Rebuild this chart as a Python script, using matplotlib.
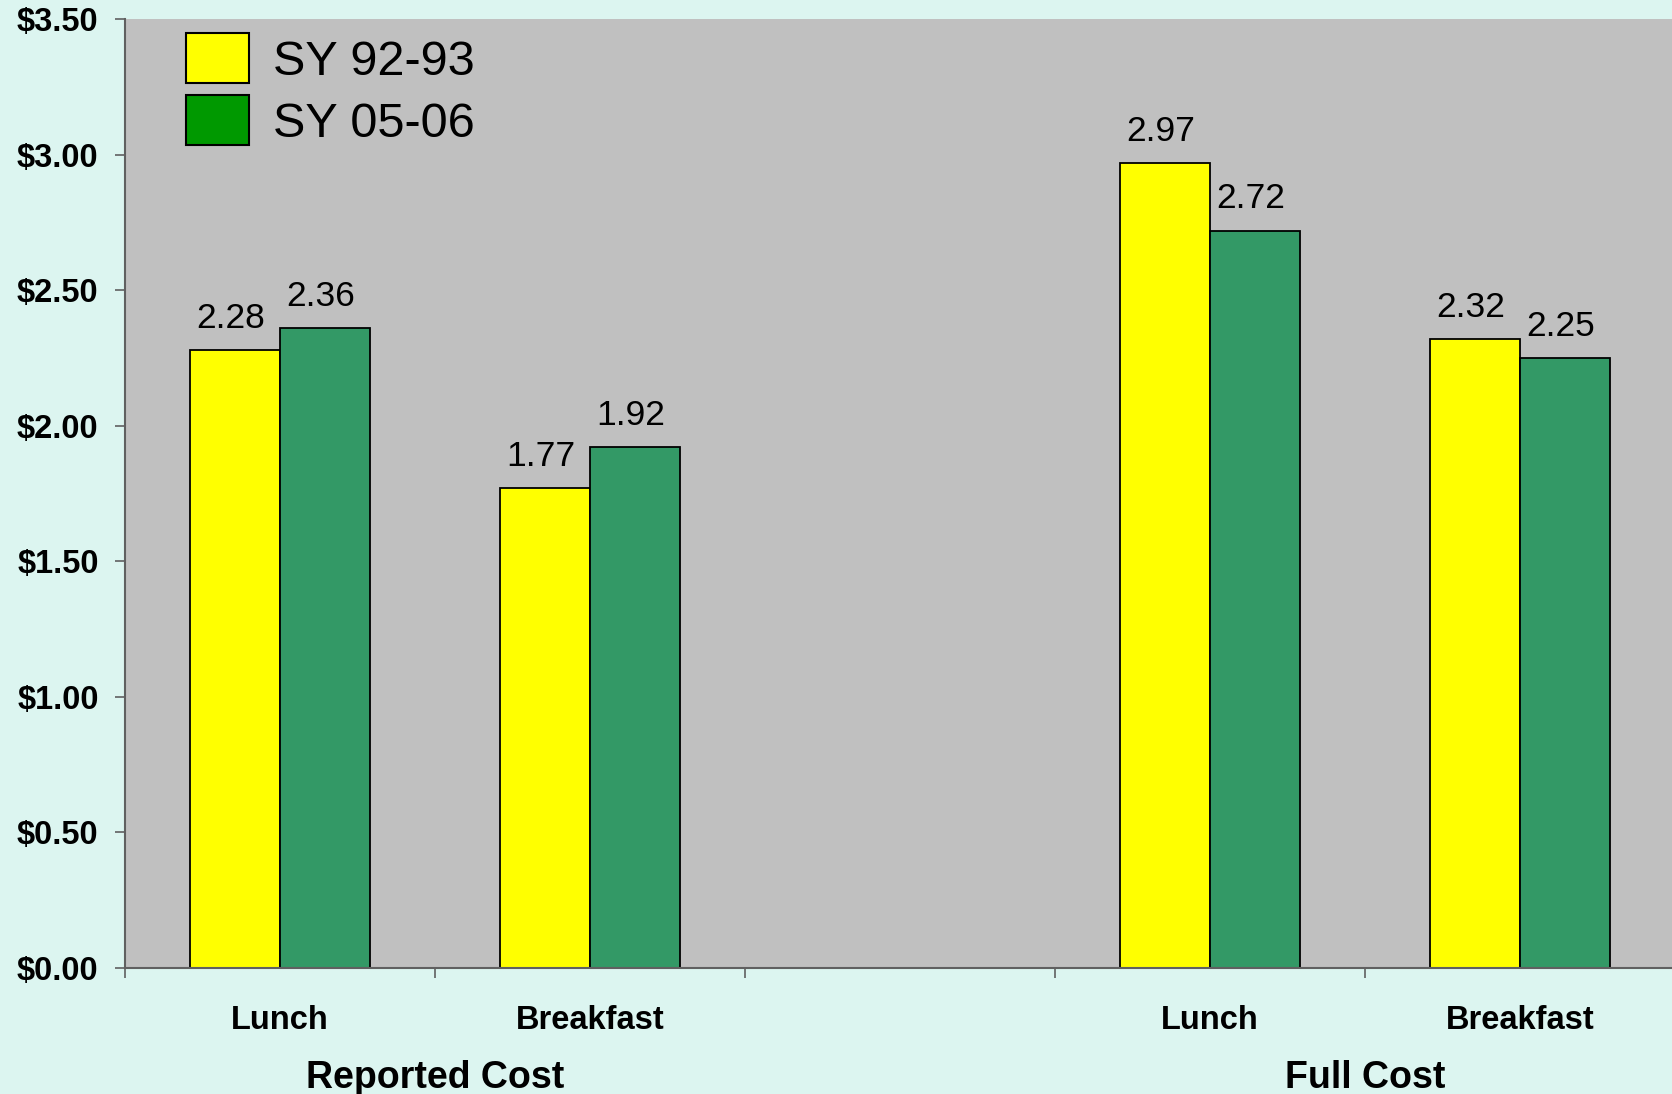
import matplotlib.pyplot as plt
import numpy as np

# Per-meal cost in dollars, grouped by reporting basis
meals = ["Lunch", "Breakfast", "", "Lunch", "Breakfast"]
groups = ["Reported Cost", "Full Cost"]
group_centers = [0.5, 3.5]
sy_92_93 = [2.28, 1.77, None, 2.97, 2.32]
sy_05_06 = [2.36, 1.92, None, 2.72, 2.25]
series_names = ["SY 92-93", "SY 05-06"]

plt.rcParams['font.family'] = ['Liberation Sans', 'DejaVu Sans']

fig = plt.figure(figsize=(16.72, 10.94), dpi=100, facecolor="#DCF5F0")
ax = fig.add_axes([0.0748, 0.1152, 0.927, 0.8674])
ax.set_facecolor("#C0C0C0")

x = np.arange(len(meals))
width = 0.29
idx = [i for i, v in enumerate(sy_92_93) if v is not None]
old = [sy_92_93[i] for i in idx]
new = [sy_05_06[i] for i in idx]
xs = x[idx]

b1 = ax.bar(xs - width / 2, old, width, color="#FFFF00", edgecolor="black", linewidth=1.3, zorder=2)
b2 = ax.bar(xs + width / 2, new, width, color="#339966", edgecolor="black", linewidth=1.3, zorder=2)

for bars, vals in ((b1, old), (b2, new)):
    for rect, v in zip(bars, vals):
        ax.annotate(f"{v:.2f}", (rect.get_x() + rect.get_width() / 2, v),
                    xytext=(-3, 16), textcoords="offset points",
                    ha="center", va="baseline", fontsize=25.5)

ax.set_xlim(-0.5, 4.5)
ax.set_ylim(0, 3.5)
ax.set_yticks(np.arange(0, 3.51, 0.5))
ax.set_yticklabels([f"${t:.2f}" for t in np.arange(0, 3.51, 0.5)], fontsize=23.5, fontweight="bold")
ax.tick_params(axis="y", length=7, width=1.2, color="#606060", pad=12)

# boundary ticks between categories, labels drawn separately
ax.set_xticks(np.arange(-0.5, 4.5, 1.0))
ax.set_xticklabels([])
ax.tick_params(axis="x", length=7, width=1.2, color="#606060")

trans = ax.get_xaxis_transform()
for i, m in enumerate(meals):
    if m:
        ax.text(i, -0.055, m, transform=trans, ha="center", va="center",
                fontsize=23.5, fontweight="bold")
for c, g in zip(group_centers, groups):
    ax.text(c, -0.116, g, transform=trans, ha="center", va="center",
            fontsize=27, fontweight="bold")

for side in ("top", "right"):
    ax.spines[side].set_visible(False)
for side in ("left", "bottom"):
    ax.spines[side].set_color("#606060")
    ax.spines[side].set_linewidth(1.5)

handles = [
    plt.Rectangle((0, 0), 1, 1, facecolor="#FFFF00", edgecolor="black", linewidth=1.5),
    plt.Rectangle((0, 0), 1, 1, facecolor="#009900", edgecolor="black", linewidth=1.5),
]
ax.legend(handles, series_names, loc="upper left", bbox_to_anchor=(0.039, 0.985),
          frameon=False, fontsize=35, handlelength=1.3, handleheight=1.2,
          handletextpad=0.5, labelspacing=0.22, borderpad=0, borderaxespad=0)

fig.savefig("out.png", dpi=100, facecolor=fig.get_facecolor())
